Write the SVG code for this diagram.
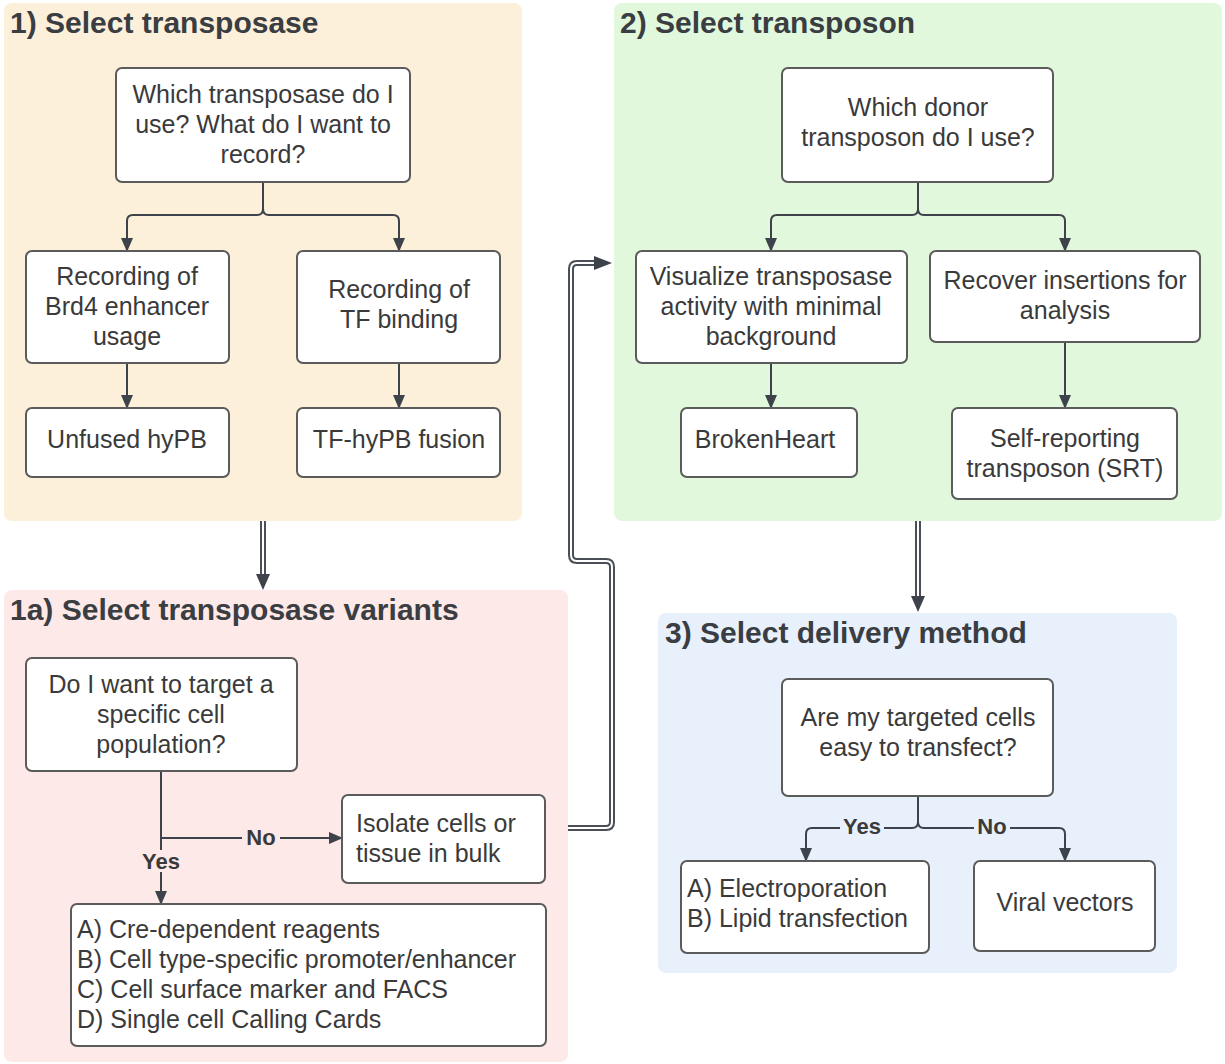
<svg xmlns="http://www.w3.org/2000/svg" width="1225" height="1064" viewBox="0 0 1225 1064">
<defs>
<marker id="ah" markerUnits="userSpaceOnUse" markerWidth="14" markerHeight="14" refX="13" refY="7" orient="auto">
<path d="M0,1 L14,7 L0,13 Z" fill="#3d424b"/>
</marker>
</defs>
<style>
.panel{stroke:none}
.t{font-family:"Liberation Sans",Arial,sans-serif;font-size:25px;fill:#3a3a3a}
.c{text-anchor:middle}
.h{font-family:"Liberation Sans",Arial,sans-serif;font-size:30px;font-weight:bold;fill:#3a3d42}
.lbl{font-family:"Liberation Sans",Arial,sans-serif;font-size:22px;font-weight:bold;fill:#3a3a3a;text-anchor:middle}
.box{fill:#ffffff;stroke:#5b5b5b;stroke-width:2}
.ln{fill:none;stroke:#3d424b;stroke-width:2}
.dbo{fill:none;stroke:#4a4f57;stroke-width:6}
.dbi{fill:none;stroke:#ffffff;stroke-width:2}
</style>
<rect width="1225" height="1064" fill="#ffffff"/>

<!-- panels -->
<g id="panel1">
<rect class="panel" x="4" y="3" width="518" height="518" rx="8" fill="#fdf0da"/>
<text class="h" x="10" y="33">1) Select transposase</text>
</g>
<g id="panel2">
<rect class="panel" x="614" y="3" width="608" height="518" rx="8" fill="#e1f8dd"/>
<text class="h" x="620" y="33">2) Select transposon</text>
</g>
<g id="panel1a">
<rect class="panel" x="4" y="590" width="564" height="472" rx="8" fill="#fde9e7"/>
<text class="h" x="10" y="620">1a) Select transposase variants</text>
</g>
<g id="panel3">
<rect class="panel" x="658" y="613" width="519" height="360" rx="8" fill="#e8f0fc"/>
<text class="h" x="665" y="643">3) Select delivery method</text>
</g>

<!-- connectors -->
<g id="connectors">
<path class="ln" d="M263,182 V209 Q263,215 257,215 H133 Q127,215 127,221 V251" marker-end="url(#ah)"/>
<path class="ln" d="M263,209 Q263,215 269,215 H393 Q399,215 399,221 V251" marker-end="url(#ah)"/>
<path class="ln" d="M127,363 V408" marker-end="url(#ah)"/>
<path class="ln" d="M399,363 V408" marker-end="url(#ah)"/>

<path class="ln" d="M918,182 V209 Q918,215 912,215 H777 Q771,215 771,221 V251" marker-end="url(#ah)"/>
<path class="ln" d="M918,209 Q918,215 924,215 H1059 Q1065,215 1065,221 V251" marker-end="url(#ah)"/>
<path class="ln" d="M771,363 V408" marker-end="url(#ah)"/>
<path class="ln" d="M1065,342 V408" marker-end="url(#ah)"/>

<path class="ln" d="M161,771 V904" marker-end="url(#ah)"/>
<path class="ln" d="M161,838 H342" marker-end="url(#ah)"/>
<rect x="242" y="826" width="38" height="22" fill="#fde9e7"/>
<text class="lbl" x="261" y="845">No</text>
<rect x="138" y="850" width="46" height="22" fill="#fde9e7"/>
<text class="lbl" x="161" y="869">Yes</text>

<path class="ln" d="M918,796 V822 Q918,828 912,828 H812 Q806,828 806,834 V861" marker-end="url(#ah)"/>
<path class="ln" d="M918,822 Q918,828 924,828 H1059 Q1065,828 1065,834 V861" marker-end="url(#ah)"/>
<rect x="840" y="816" width="44" height="22" fill="#e8f0fc"/>
<text class="lbl" x="862" y="834">Yes</text>
<rect x="974" y="816" width="36" height="22" fill="#e8f0fc"/>
<text class="lbl" x="992" y="834">No</text>

<path class="dbo" d="M263,521 V578"/>
<path class="dbi" d="M263,521 V578"/>
<path d="M256,574 L270,574 L263,590 Z" fill="#3d424b"/>

<path class="dbo" d="M918,521 V600"/>
<path class="dbi" d="M918,521 V600"/>
<path d="M911,596 L925,596 L918,612 Z" fill="#3d424b"/>

<path class="dbo" d="M568,828 H606 Q612,828 612,822 V567 Q612,561 606,561 H577 Q571,561 571,555 V269 Q571,263 577,263 H600"/>
<path class="dbi" d="M568,828 H606 Q612,828 612,822 V567 Q612,561 606,561 H577 Q571,561 571,555 V269 Q571,263 577,263 H600"/>
<path d="M594,256 L612,263 L594,270 Z" fill="#3d424b"/>
</g>

<!-- nodes -->
<g id="n_which_transposase">
<rect class="box" x="116" y="68" width="294" height="114" rx="6"/>
<text class="t c" x="263" y="103">Which transposase do I</text>
<text class="t c" x="263" y="133">use? What do I want to</text>
<text class="t c" x="263" y="163">record?</text>
</g>
<g id="n_brd4">
<rect class="box" x="26" y="251" width="203" height="112" rx="6"/>
<text class="t c" x="127" y="285">Recording of</text>
<text class="t c" x="127" y="315">Brd4 enhancer</text>
<text class="t c" x="127" y="345">usage</text>
</g>
<g id="n_tf">
<rect class="box" x="297" y="251" width="203" height="112" rx="6"/>
<text class="t c" x="399" y="298">Recording of</text>
<text class="t c" x="399" y="328">TF binding</text>
</g>
<g id="n_unfused">
<rect class="box" x="26" y="408" width="203" height="69" rx="6"/>
<text class="t c" x="127" y="448">Unfused hyPB</text>
</g>
<g id="n_tffusion">
<rect class="box" x="297" y="408" width="203" height="69" rx="6"/>
<text class="t c" x="399" y="448">TF-hyPB fusion</text>
</g>

<g id="n_donor">
<rect class="box" x="782" y="68" width="271" height="114" rx="6"/>
<text class="t c" x="918" y="116">Which donor</text>
<text class="t c" x="918" y="146">transposon do I use?</text>
</g>
<g id="n_visualize">
<rect class="box" x="636" y="251" width="271" height="112" rx="6"/>
<text class="t c" x="771" y="285">Visualize transposase</text>
<text class="t c" x="771" y="315">activity with minimal</text>
<text class="t c" x="771" y="345">background</text>
</g>
<g id="n_recover">
<rect class="box" x="930" y="251" width="270" height="91" rx="6"/>
<text class="t c" x="1065" y="289">Recover insertions for</text>
<text class="t c" x="1065" y="319">analysis</text>
</g>
<g id="n_brokenheart">
<rect class="box" x="681" y="408" width="176" height="69" rx="6"/>
<text class="t c" x="765" y="448">BrokenHeart</text>
</g>
<g id="n_srt">
<rect class="box" x="952" y="408" width="225" height="91" rx="6"/>
<text class="t c" x="1065" y="447">Self-reporting</text>
<text class="t c" x="1065" y="477">transposon (SRT)</text>
</g>

<g id="n_target">
<rect class="box" x="26" y="658" width="271" height="113" rx="6"/>
<text class="t c" x="161" y="693">Do I want to target a</text>
<text class="t c" x="161" y="723">specific cell</text>
<text class="t c" x="161" y="753">population?</text>
</g>
<g id="n_isolate">
<rect class="box" x="342" y="795" width="203" height="88" rx="6"/>
<text class="t" x="356" y="832">Isolate cells or</text>
<text class="t" x="356" y="862">tissue in bulk</text>
</g>
<g id="n_list">
<rect class="box" x="71" y="904" width="475" height="142" rx="6"/>
<text class="t" x="77" y="938">A) Cre-dependent reagents</text>
<text class="t" x="77" y="968">B) Cell type-specific promoter/enhancer</text>
<text class="t" x="77" y="998">C) Cell surface marker and FACS</text>
<text class="t" x="77" y="1028">D) Single cell Calling Cards</text>
</g>

<g id="n_transfect">
<rect class="box" x="782" y="679" width="271" height="117" rx="6"/>
<text class="t c" x="918" y="726">Are my targeted cells</text>
<text class="t c" x="918" y="756">easy to transfect?</text>
</g>
<g id="n_electro">
<rect class="box" x="681" y="861" width="248" height="92" rx="6"/>
<text class="t" x="687" y="897">A) Electroporation</text>
<text class="t" x="687" y="927">B) Lipid transfection</text>
</g>
<g id="n_viral">
<rect class="box" x="974" y="861" width="181" height="90" rx="6"/>
<text class="t c" x="1065" y="911">Viral vectors</text>
</g>
</svg>
